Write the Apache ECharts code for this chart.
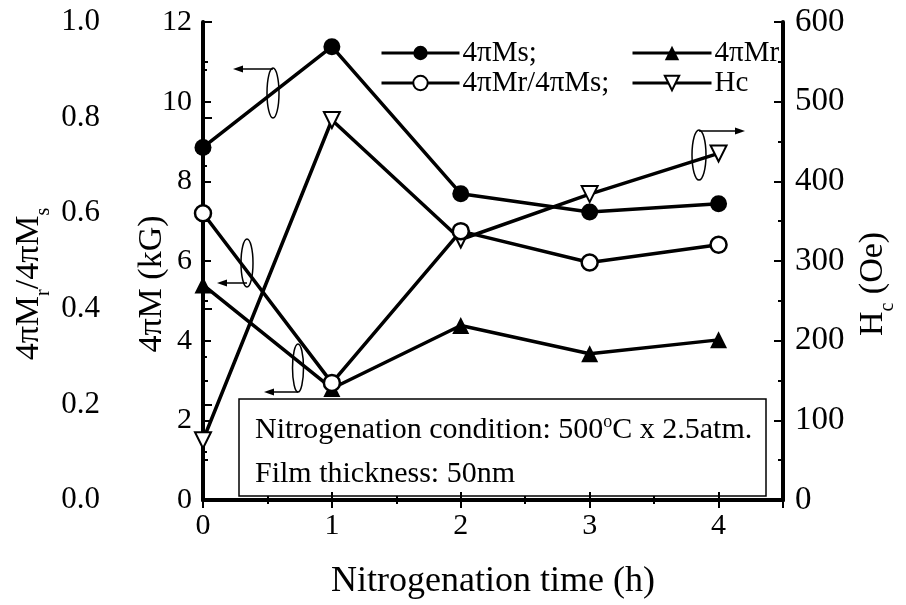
<!DOCTYPE html>
<html>
<head>
<meta charset="utf-8">
<script src="https://cdn.jsdelivr.net/npm/echarts@6/dist/echarts.min.js"></script>
<style>
  html, body { margin: 0; padding: 0; background: #fff; }
  #chart { width: 906px; height: 605px; }
</style>
</head>
<body>
<div id="chart"></div>
<script>
// nitrogenation time (h)
const times = [0, 1, 2, 3, 4];
// 4πMs, 4πMr in kG
const msValues = [8.85, 11.38, 7.69, 7.23, 7.44];
const mrValues = [5.4, 2.8, 4.38, 3.67, 4.02];
// squareness 4πMr/4πMs
const ratioValues = [0.60, 0.245, 0.5625, 0.497, 0.534];
// coercivity Hc in Oe
const hcValues = [75, 477, 327, 384, 435];

const FONT = 'Liberation Serif';
const BLACK = '#000';

const pairs = vals => times.map((t, i) => [t, vals[i]]);

// ellipse + arrow markers telling which axis a curve belongs to
const pointers = [
  {cx: 273, cy: 93, rx: 6, ry: 25, ay: 69, x1: 273, x2: 233},
  {cx: 247, cy: 263, rx: 6, ry: 24, ay: 283, x1: 247, x2: 217},
  {cx: 298, cy: 368, rx: 5.5, ry: 24, ay: 392, x1: 298, x2: 264},
  {cx: 699, cy: 155, rx: 7, ry: 25, ay: 131, x1: 699, x2: 745}
];

function pointerGraphics() {
  const out = [];
  pointers.forEach(p => {
    const dir = p.x2 < p.x1 ? 1 : -1;
    out.push({
      type: 'ellipse', z: 50,
      shape: {cx: p.cx, cy: p.cy, rx: p.rx, ry: p.ry},
      style: {fill: 'none', stroke: BLACK, lineWidth: 1.5}
    });
    out.push({
      type: 'line', z: 50,
      shape: {x1: p.x1, y1: p.ay, x2: p.x2 + dir * 6, y2: p.ay},
      style: {stroke: BLACK, lineWidth: 1.5}
    });
    out.push({
      type: 'polygon', z: 50,
      shape: {points: [[p.x2, p.ay], [p.x2 + dir * 10, p.ay - 3.5], [p.x2 + dir * 10, p.ay + 3.5]]},
      style: {fill: BLACK}
    });
  });
  return out;
}

const subRich = {
  sub: {fontFamily: FONT, fontSize: 20, color: BLACK, verticalAlign: 'bottom', padding: [0, 0, -8, 0]}
};

const labelStyle = {fontFamily: FONT, fontSize: 30, color: BLACK};
const legendText = {fontFamily: FONT, fontSize: 29, color: BLACK, lineHeight: 30, padding: [0, 0, 0, -2]};

const chart = echarts.init(document.getElementById('chart'));

const option = {
  backgroundColor: '#fff',
  animation: false,
  grid: {left: 203, right: 119, top: 22, bottom: 105},
  legend: [
    {
      data: ['4πMs', '4πMr/4πMs'],
      left: 375, top: 33,
      orient: 'vertical',
      itemWidth: 78, itemHeight: 18, itemGap: 0,
      lineStyle: {width: 3},
      formatter: name => name + ';',
      textStyle: legendText
    },
    {
      data: ['4πMr', 'Hc'],
      left: 626, top: 33,
      orient: 'vertical',
      itemWidth: 79, itemHeight: 18, itemGap: 0,
      lineStyle: {width: 3},
      textStyle: legendText
    }
  ],
  xAxis: [
    {
      type: 'value', min: 0, max: 4.5, interval: 1,
      name: 'Nitrogenation time (h)',
      nameLocation: 'middle', nameGap: 64, nameMoveOverlap: false,
      nameTextStyle: {fontFamily: FONT, fontSize: 36, color: BLACK},
      axisLine: {lineStyle: {color: BLACK, width: 4}},
      axisTick: {inside: true, length: 8, lineStyle: {color: BLACK, width: 2}},
      minorTick: {show: true, splitNumber: 2, length: 4, lineStyle: {color: BLACK, width: 2}},
      axisLabel: Object.assign({margin: 11, formatter: v => (v % 1 === 0 ? v : '')}, labelStyle),
      splitLine: {show: false}
    },
    {
      type: 'value', min: 0, max: 4.5, interval: 1, position: 'top',
      axisLine: {lineStyle: {color: BLACK, width: 4}},
      axisTick: {inside: true, length: 8, lineStyle: {color: BLACK, width: 2}},
      minorTick: {show: true, splitNumber: 2, length: 4, lineStyle: {color: BLACK, width: 2}},
      axisLabel: {show: false},
      splitLine: {show: false}
    }
  ],
  yAxis: [
    {
      // 4πM (kG)
      type: 'value', min: 0, max: 12, interval: 2, position: 'left',
      name: '4πM (kG)',
      nameLocation: 'middle', nameRotate: 90, nameGap: 34, nameMoveOverlap: false,
      nameTextStyle: {fontFamily: FONT, fontSize: 34, color: BLACK, padding: [0, 46, 0, 0]},
      axisLine: {show: true, lineStyle: {color: BLACK, width: 4}},
      axisTick: {inside: true, length: 8, lineStyle: {color: BLACK, width: 2}},
      minorTick: {show: true, splitNumber: 2, length: 5, lineStyle: {color: BLACK, width: 2}},
      axisLabel: Object.assign({margin: 11}, labelStyle),
      splitLine: {show: false}
    },
    {
      // 4πMr/4πMs
      type: 'value', min: 0, max: 1, interval: 0.2, position: 'left', offset: 91,
      name: '{n|4πM}{sub|r}{n|/4πM}{sub|s}',
      nameLocation: 'middle', nameRotate: 90, nameGap: 66, nameMoveOverlap: false,
      nameTextStyle: {
        fontFamily: FONT, fontSize: 34, color: BLACK, padding: [0, 46, 0, 0],
        rich: Object.assign({n: {fontFamily: FONT, fontSize: 34, color: BLACK}}, subRich)
      },
      axisLine: {show: true, lineStyle: {color: BLACK, width: 3}},
      axisTick: {inside: true, length: 9, lineStyle: {color: BLACK, width: 2}},
      minorTick: {show: true, splitNumber: 2, length: 4, lineStyle: {color: BLACK, width: 2}},
      axisLabel: Object.assign({margin: 12, formatter: v => v.toFixed(1)}, labelStyle, {fontSize: 31}),
      splitLine: {show: false}
    },
    {
      // Hc (Oe)
      type: 'value', min: 0, max: 600, interval: 100, position: 'right',
      name: '{n|H}{sub|c}{n| (Oe)}',
      nameLocation: 'middle', nameRotate: 90, nameGap: 73, nameMoveOverlap: false,
      nameTextStyle: {
        fontFamily: FONT, fontSize: 34, color: BLACK, padding: [0, 46, 0, 0],
        rich: Object.assign({n: {fontFamily: FONT, fontSize: 34, color: BLACK}}, subRich)
      },
      axisLine: {show: true, lineStyle: {color: BLACK, width: 4}},
      axisTick: {inside: true, length: 9, lineStyle: {color: BLACK, width: 2}},
      minorTick: {show: true, splitNumber: 2, length: 5, lineStyle: {color: BLACK, width: 2}},
      axisLabel: Object.assign({margin: 12}, labelStyle, {fontSize: 33}),
      splitLine: {show: false}
    }
  ],
  series: [
    {
      name: '4πMs', type: 'line', xAxisIndex: 0, yAxisIndex: 0,
      data: pairs(msValues),
      symbol: 'circle', symbolSize: 17,
      lineStyle: {color: BLACK, width: 3.5},
      itemStyle: {color: BLACK}
    },
    {
      name: '4πMr', type: 'line', xAxisIndex: 0, yAxisIndex: 0,
      data: pairs(mrValues),
      symbol: 'triangle', symbolSize: 17,
      lineStyle: {color: BLACK, width: 3.5},
      itemStyle: {color: BLACK}
    },
    {
      name: 'Hc', type: 'line', xAxisIndex: 0, yAxisIndex: 2,
      data: pairs(hcValues),
      symbol: 'triangle', symbolRotate: 180, symbolSize: 16,
      lineStyle: {color: BLACK, width: 3.5},
      itemStyle: {color: '#fff', borderColor: BLACK, borderWidth: 2}
    },
    {
      name: '4πMr/4πMs', type: 'line', xAxisIndex: 0, yAxisIndex: 1,
      data: pairs(ratioValues),
      symbol: 'circle', symbolSize: 16,
      lineStyle: {color: BLACK, width: 3.5},
      itemStyle: {color: '#fff', borderColor: BLACK, borderWidth: 2.5}
    }
  ],
  graphic: [
    {
      type: 'group', z: 60,
      children: [
        {
          type: 'rect',
          shape: {x: 239, y: 399, width: 527, height: 97},
          style: {fill: '#fff', stroke: BLACK, lineWidth: 1.5}
        },
        {
          type: 'text', left: 255, top: 413,
          style: {
            text: '{t|Nitrogenation condition: 500}{sup|o}{t|C x 2.5atm.}',
            rich: {
              t: {fontFamily: FONT, fontSize: 30, fill: BLACK, lineHeight: 34},
              sup: {fontFamily: FONT, fontSize: 18, fill: BLACK, verticalAlign: 'top', lineHeight: 34, padding: [0, 0, 12, 0]}
            }
          }
        },
        {
          type: 'text', left: 255, top: 459,
          style: {text: 'Film thickness: 50nm', fontFamily: FONT, fontSize: 30, fill: BLACK}
        }
      ]
    }
  ].concat(pointerGraphics())
};

chart.setOption(option);
</script>
</body>
</html>
